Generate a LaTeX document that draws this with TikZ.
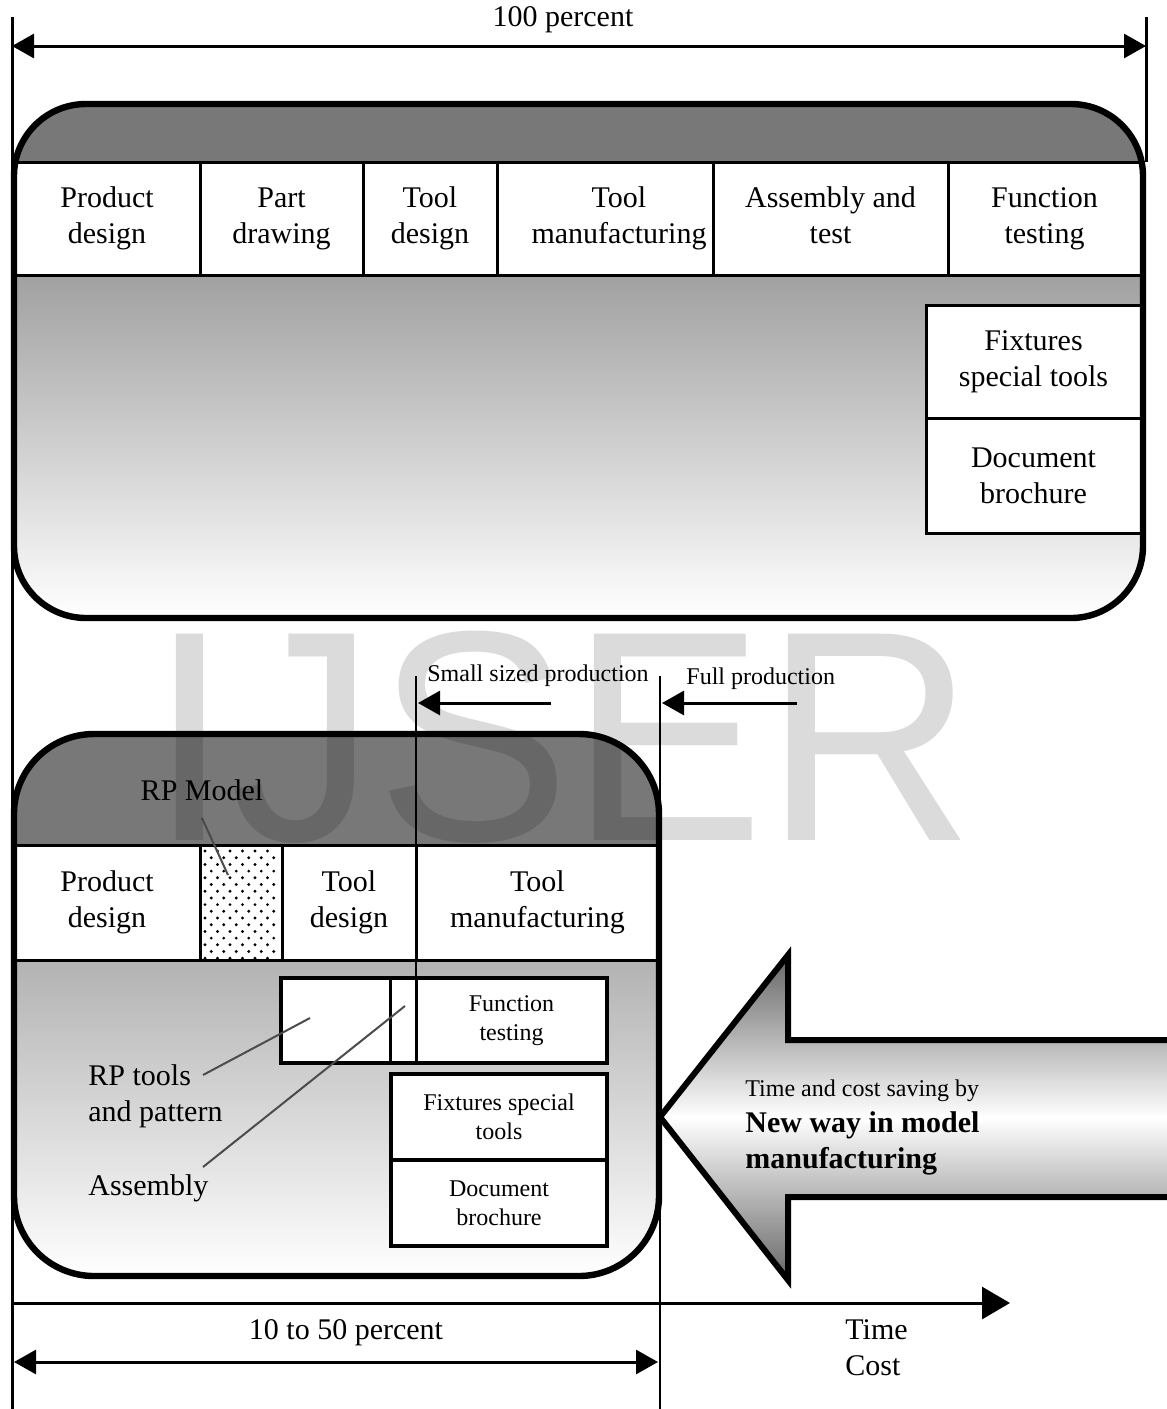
\documentclass[tikz,border=0pt]{standalone}
\usepackage{fontspec}
\setmainfont{Liberation Serif}
\setsansfont{Liberation Sans}
\usetikzlibrary{arrows.meta}

\tikzset{
	cell/.style={draw=black, fill=white, line width=1.5pt},
	bigtext/.style={align=center, inner sep=0pt, font=\fontsize{15}{18}\selectfont},
	smalltext/.style={align=center, inner sep=0pt, font=\fontsize{12}{14.5}\selectfont},
	boxline/.style={draw=black, line width=3.2pt},
	leader/.style={draw=black!70, line width=1pt},
	dimline/.style={line width=1.5pt, >={Triangle[length=11pt,width=12pt]}, <->},
	pointer/.style={line width=1.5pt, -{Triangle[length=11pt,width=12pt]}},
}

\begin{document}
\begin{tikzpicture}[x=0.5pt, y=-0.5pt]
	\useasboundingbox (0,0) rectangle (1167,1409);

	% outer limits and the 100 percent span
	\coordinate (ltop) at (12,17);
	\coordinate (lbot) at (12,1409);
	\coordinate (rtop) at (1146,17);
	\coordinate (rbot) at (1146,162);
	\draw[line width=1.5pt] (ltop) -- (lbot);
	\draw[line width=1.5pt] (rtop) -- (rbot);
	\node[bigtext] (hundred) at (563,20) {100 percent};
	\coordinate (hl) at (12,46);
	\coordinate (hr) at (1146,46);
	\draw[dimline] (hl) -- (hr);

	% conventional way
	\begin{scope}
		\clip[rounded corners=36pt] (14,104) rectangle (1143,618);
		\fill[black!53] (14,104) rectangle (1143,162);
		\shade[top color=black!37, bottom color=white] (14,275) rectangle (1143,618);
		\draw[cell] (14,162) rectangle node[bigtext] (pdesign) {Product\\design} (200,275);
		\draw[cell] (200,162) rectangle node[bigtext] (pdraw) {Part\\drawing} (363,275);
		\draw[cell] (363,162) rectangle node[bigtext] (tdesign) {Tool\\design} (497,275);
		\draw[cell] (497,162) rectangle node[bigtext, xshift=7pt] (tmanu) {Tool\\manufacturing} (713,275);
		\draw[cell] (713,162) rectangle node[bigtext] (asmtest) {Assembly and\\test\vphantom{g}} (948,275);
		\draw[cell] (948,162) rectangle node[bigtext] (ftest) {Function\\testing} (1141,275);
		\draw[cell] (926,305) rectangle node[bigtext] (fixt) {Fixtures\\special tools} (1141,418);
		\draw[cell] (926,418) rectangle node[bigtext] (docb) {Document\\brochure} (1141,533);
	\end{scope}
	\draw[boxline, rounded corners=36pt] (14,104) rectangle (1143,618);

	% new way with RP
	\begin{scope}
		\clip[rounded corners=40pt] (14,734) rectangle (659,1276);
		\fill[black!53] (14,734) rectangle (659,845);
		\shade[top color=black!30, bottom color=white] (14,960) rectangle (659,1276);
		\draw[cell] (14,845) rectangle node[bigtext] (npdesign) {Product\\design} (200,960);
		\draw[cell] (200,845) rectangle node (rpcell) {} (282,960);
		\foreach \j [evaluate=\j as \off using {mod(\j,2)*6.25}] in {0,...,16}
			\foreach \i in {0,...,5}
				\fill (205+\off+12.5*\i, 851+6.7*\j) circle[radius=1.6];
		\draw[cell] (282,845) rectangle node[bigtext] (ntdesign) {Tool\\design} (416,960);
		\draw[cell] (416,845) rectangle node[bigtext] (ntmanu) {Tool\\manufacturing} (659,960);
		\draw[cell] (281,978) rectangle node (rptcell) {} (390,1063);
		\draw[cell] (390,978) rectangle node (asmcell) {} (416,1063);
		\draw[cell] (416,978) rectangle node[smalltext] (nftest) {Function\\testing} (607,1063);
		\draw[line width=2pt] (281,978) rectangle (607,1063);
		\draw[cell, line width=2pt] (391,1074) rectangle node[smalltext] (nfixt) {Fixtures special\\tools} (607,1160);
		\draw[cell, line width=2pt] (391,1160) rectangle node[smalltext] (ndocb) {Document\\brochure} (607,1246);
	\end{scope}
	\draw[boxline, rounded corners=40pt] (14,734) rectangle (659,1276);

	% production limits
	\coordinate (sstop) at (416,676);
	\coordinate (ssbot) at (416,1063);
	\coordinate (fptop) at (660,676);
	\coordinate (fpbot) at (660,1409);
	\draw[line width=1.2pt] (sstop) -- (ssbot);
	\draw[line width=1.2pt] (fptop) -- (fpbot);
	\node[smalltext, anchor=west] (small) at (427,676) {Small sized production};
	\node[smalltext, anchor=west] (full) at (686,679) {Full production};
	\coordinate (ssfrom) at (551,703);
	\coordinate (ssto) at (418,703);
	\coordinate (fpfrom) at (797,703);
	\coordinate (fpto) at (662,703);
	\draw[pointer] (ssfrom) -- (ssto);
	\draw[pointer] (fpfrom) -- (fpto);

	% saving arrow
	\draw[line width=3pt, top color=black!60, bottom color=black!60, middle color=white]
		(660,1117) -- (788,955) -- (788,1040) -- (1180,1040) -- (1180,1197) -- (788,1197) -- (788,1280) -- cycle;
	\node[anchor=west, align=left, inner sep=0pt, font=\fontsize{15}{18}\selectfont] (saving) at (745,1127)
		{{\fontsize{12}{18}\selectfont Time and cost saving by}\\\textbf{New way in model}\\\textbf{manufacturing}};

	% time axis and the 10 to 50 percent span
	\coordinate (ax0) at (12,1303);
	\coordinate (ax1) at (1010,1303);
	\draw[line width=1.5pt, -{Triangle[length=14pt,width=16pt]}] (ax0) -- (ax1);
	\node[bigtext, align=left, anchor=west] (timecost) at (845,1348) {Time\\Cost};
	\coordinate (bl) at (14,1362);
	\coordinate (br) at (658,1362);
	\draw[dimline] (bl) -- (br);
	\node[bigtext] (fifty) at (346,1333) {10 to 50 percent};

	% labels for the new way
	\node[bigtext] (rpmodel) at (202,790) {RP Model};
	\node[bigtext, align=left, anchor=west] (rptools) at (88,1096) {RP tools\\and pattern};
	\node[bigtext, anchor=west] (assembly) at (88,1188) {Assembly};
	\coordinate (rpm1) at (202,818);
	\coordinate (rpm2) at (228,875);
	\coordinate (rpt1) at (203,1075);
	\coordinate (rpt2) at (310,1018);
	\coordinate (asm1) at (203,1167);
	\coordinate (asm2) at (405,1006);
	\draw[leader] (rpm1) -- (rpm2);
	\draw[leader] (rpt1) -- (rpt2);
	\draw[leader] (asm1) -- (asm2);

	% watermark
	\node[font=\sffamily\fontsize{150}{150}\selectfont, text=black, opacity=0.14, anchor=base, inner sep=0pt, xscale=0.97, transform shape] (wmark) at (562,840) {IJSER};
\end{tikzpicture}
\end{document}
